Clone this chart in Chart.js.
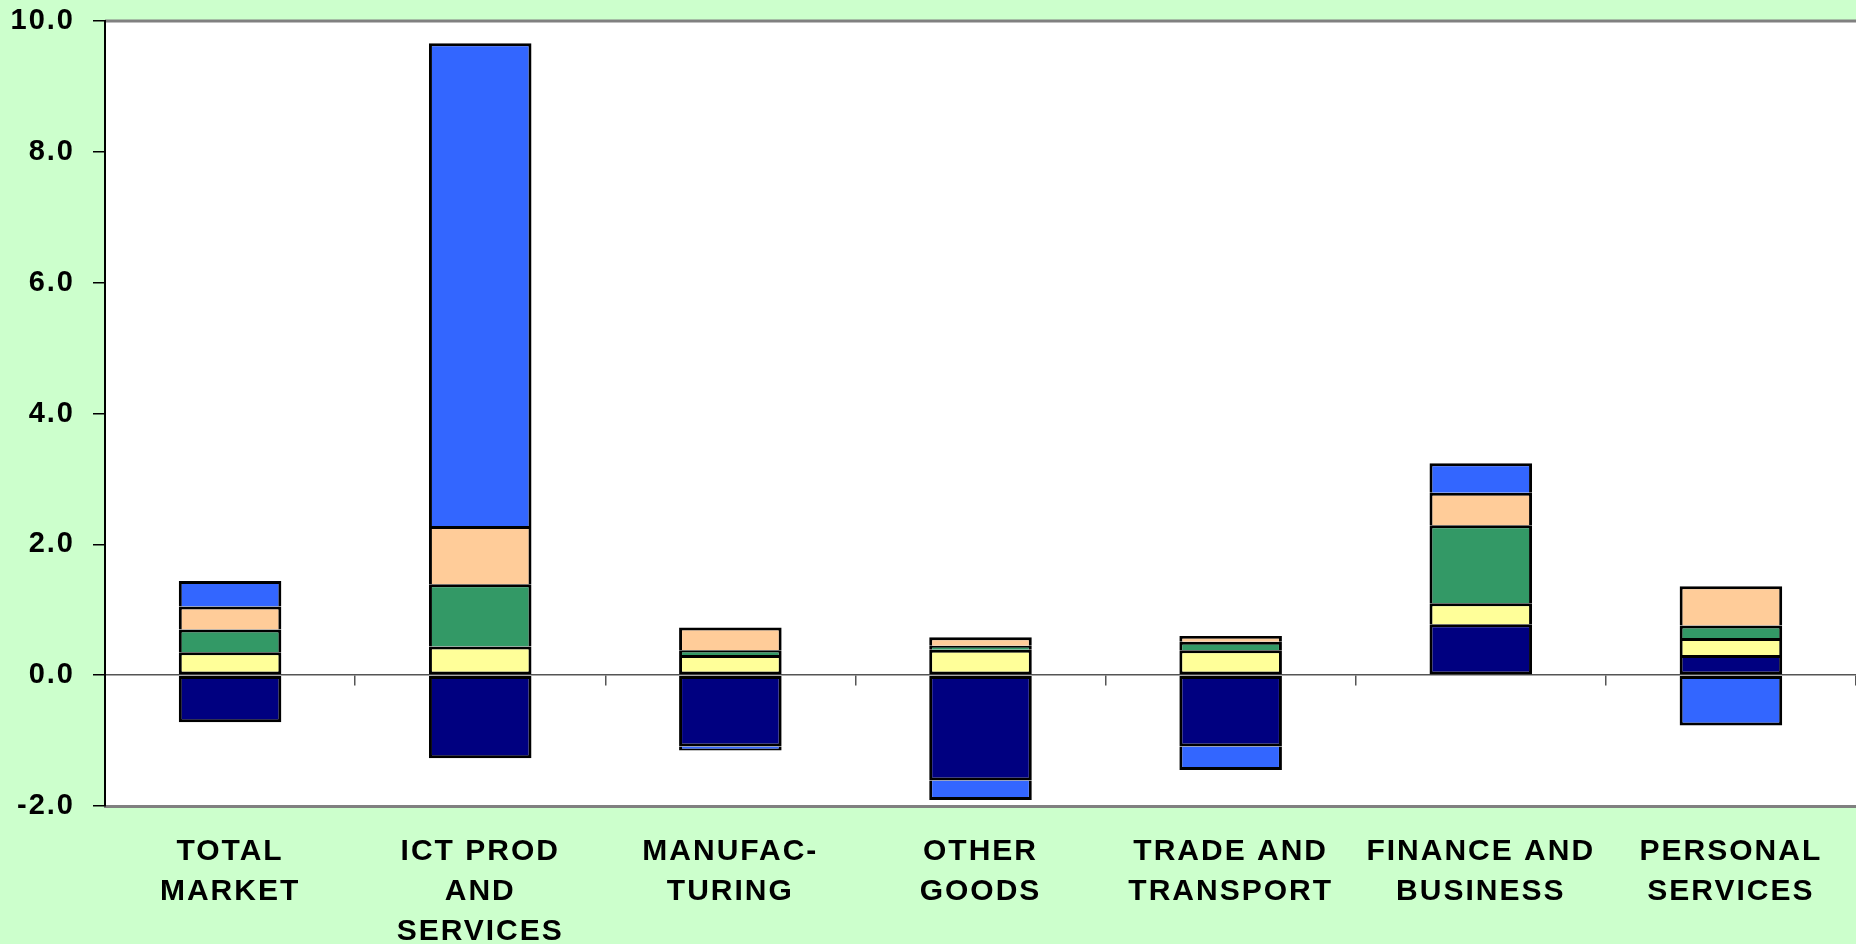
<!DOCTYPE html>
<html>
<head>
<meta charset="utf-8">
<title>Contributions by sector</title>
<script src="https://cdn.jsdelivr.net/npm/chart.js@4.4.0/dist/chart.umd.min.js"></script>
<style>
  html, body { margin: 0; padding: 0; background: #CCFFCC; }
  #caixa { width: 1856px; height: 944px; position: relative; }
</style>
</head>
<body>
<div id="caixa"><canvas id="chart_setores"></canvas></div>
<script>
// categories (multi-line labels)
const categorias = [
    ['TOTAL', 'MARKET'],
    ['ICT PROD', 'AND', 'SERVICES'],
    ['MANUFAC-', 'TURING'],
    ['OTHER', 'GOODS'],
    ['TRADE AND', 'TRANSPORT'],
    ['FINANCE AND', 'BUSINESS'],
    ['PERSONAL', 'SERVICES']
];

// series values (bottom to top of each stack)
const serieNavy   = [-0.72, -1.27, -1.09, -1.61, -1.09, 0.78, 0.31];
const serieYellow = [0.35, 0.44, 0.31, 0.39, 0.38, 0.32, 0.26];
const serieGreen  = [0.35, 0.95, 0.07, 0.06, 0.13, 1.19, 0.19];
const seriePeach  = [0.35, 0.89, 0.35, 0.13, 0.09, 0.50, 0.60];
const serieBlue   = [0.39, 7.38, -0.06, -0.30, -0.36, 0.45, -0.77];

// y axis tick values
const ticksY = [-2, 0, 2, 4, 6, 8, 10];

const fonte = "'Liberation Sans', Arial, sans-serif";
const LARGURA_BORDA = 3;

// one black line per boundary: the outer edge of each segment,
// plus the base edge for the first segment of a stack
function bordaSegmento(ctx) {
    const dados = ctx.chart.data.datasets;
    const i = ctx.dataIndex;
    const v = dados[ctx.datasetIndex].data[i];
    let primeiro = true;
    for (let d = 0; d < ctx.datasetIndex; d++) {
        const outro = dados[d].data[i];
        if ((v >= 0 && outro >= 0) || (v < 0 && outro < 0)) {
            primeiro = false;
        }
    }
    const base = primeiro ? LARGURA_BORDA : 0;
    if (v >= 0) {
        return { top: LARGURA_BORDA, bottom: base, left: LARGURA_BORDA, right: LARGURA_BORDA };
    }
    return { top: base, bottom: LARGURA_BORDA, left: LARGURA_BORDA, right: LARGURA_BORDA };
}

function serie(label, data, cor) {
    return {
        label: label,
        data: data,
        backgroundColor: cor,
        borderColor: '#000000',
        borderWidth: bordaSegmento,
        borderSkipped: false,
        barPercentage: 0.41,
        categoryPercentage: 1.0
    };
}

// white plot area + grey top border
const fundoPlot = {
    id: 'fundoPlot',
    beforeDraw(chart) {
        const ctx = chart.ctx;
        const a = chart.chartArea;
        ctx.save();
        ctx.fillStyle = '#FFFFFF';
        ctx.fillRect(a.left, a.top, a.right - a.left, a.bottom - a.top);
        ctx.strokeStyle = '#808080';
        ctx.lineWidth = 3;
        ctx.beginPath();
        ctx.moveTo(a.left, a.top);
        ctx.lineTo(a.right, a.top);
        ctx.stroke();
        ctx.restore();
    }
};

// the original text is set a little wider than Arial
const espacamento = {
    id: 'espacamento',
    beforeUpdate(chart) { chart.ctx.letterSpacing = '2px'; },
    beforeDraw(chart) { chart.ctx.letterSpacing = '2px'; }
};

const config_setores = {
    type: 'bar',
    data: {
        labels: categorias,
        datasets: [
            serie('Navy', serieNavy, '#000080'),
            serie('Yellow', serieYellow, '#FFFF99'),
            serie('Green', serieGreen, '#339966'),
            serie('Peach', seriePeach, '#FFCC99'),
            serie('Blue', serieBlue, '#3366FF')
        ]
    },
    options: {
        responsive: true,
        maintainAspectRatio: false,
        animation: false,
        layout: {
            padding: 0
        },
        plugins: {
            legend: { display: false },
            tooltip: { enabled: false }
        },
        scales: {
            x: {
                stacked: true,
                grid: { display: false, drawTicks: false },
                border: { display: true, color: '#808080', width: 3 },
                ticks: {
                    autoSkip: false,
                    maxRotation: 0,
                    padding: 26,
                    color: '#000000',
                    font: { family: fonte, size: 30, weight: 'bold', lineHeight: 1.33 }
                },
                afterFit: function (scale) { scale.height = 138; }
            },
            // zero line with the small category ticks
            x2: {
                axis: 'x',
                type: 'category',
                position: { y: 0 },
                offset: true,
                grid: { offset: true, drawOnChartArea: false, drawTicks: true, tickLength: 10, color: '#555555', lineWidth: 1.5 },
                border: { display: true, color: '#555555', width: 1.5 },
                ticks: { display: false }
            },
            y: {
                stacked: true,
                min: -2,
                max: 10,
                afterBuildTicks: function (scale) {
                    scale.ticks = ticksY.map(function (v) { return { value: v }; });
                },
                grid: { drawOnChartArea: false, drawTicks: true, tickLength: 12, color: '#000000', lineWidth: 1.5 },
                border: { display: true, color: '#000000', width: 2 },
                ticks: {
                    padding: 18,
                    color: '#000000',
                    font: { family: fonte, size: 29, weight: 'bold' },
                    callback: function (v) { return Number(v).toFixed(1); }
                },
                afterFit: function (scale) {
                    scale.width = 105;
                    scale.paddingTop = 21;
                }
            }
        }
    },
    plugins: [espacamento, fundoPlot]
};

const chart_setores = new Chart(
    document.getElementById('chart_setores'),
    config_setores
);
</script>
</body>
</html>
